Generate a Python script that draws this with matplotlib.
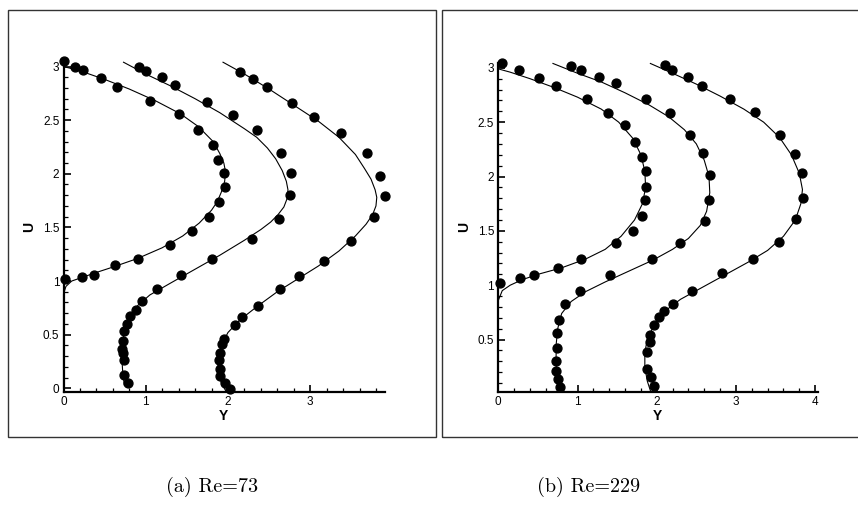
import matplotlib
matplotlib.use("Agg")
import matplotlib.pyplot as plt
from matplotlib.patches import Rectangle
from matplotlib.ticker import MultipleLocator

plt.rcParams['font.family'] = ['Liberation Sans', 'DejaVu Sans']
plt.rcParams['axes.formatter.use_mathtext'] = False

# ---------------- Re = 73 ----------------
a_dots1_x = [0.01, 0.14, 0.24, 0.46, 0.65, 1.05, 1.40, 1.63, 1.82, 1.88, 1.95, 1.96, 1.89, 1.77, 1.56, 1.30, 0.91, 0.63, 0.37, 0.23, 0.02]
a_dots1_y = [3.05, 3.00, 2.97, 2.89, 2.81, 2.68, 2.56, 2.41, 2.27, 2.13, 2.01, 1.88, 1.74, 1.60, 1.47, 1.34, 1.21, 1.15, 1.06, 1.04, 1.02]
a_line1_x = [0.0, 0.0, 0.03, 0.10, 0.25, 0.40, 0.60, 0.90, 1.20, 1.45, 1.65, 1.80, 1.87, 1.92, 1.96, 1.97, 1.95, 1.90, 1.82, 1.64, 1.42, 1.12, 0.80, 0.50, 0.20, 0.0]
a_line1_y = [0.0, 0.88, 0.95, 1.00, 1.04, 1.08, 1.13, 1.21, 1.31, 1.42, 1.54, 1.66, 1.74, 1.83, 1.93, 2.02, 2.10, 2.19, 2.30, 2.44, 2.56, 2.68, 2.79, 2.88, 2.96, 3.00]

a_dots2_x = [0.92, 1.00, 1.20, 1.36, 1.74, 2.06, 2.35, 2.65, 2.77, 2.76, 2.62, 2.29, 1.81, 1.43, 1.14, 0.95, 0.88, 0.81, 0.77, 0.74, 0.72, 0.71, 0.72, 0.73, 0.74, 0.78]
a_dots2_y = [3.00, 2.96, 2.90, 2.83, 2.67, 2.55, 2.41, 2.19, 2.01, 1.80, 1.58, 1.39, 1.21, 1.06, 0.93, 0.81, 0.73, 0.67, 0.60, 0.53, 0.44, 0.37, 0.33, 0.26, 0.12, 0.05]
a_line2_x = [0.73, 1.00, 1.30, 1.60, 1.90, 2.20, 2.35, 2.48, 2.58, 2.66, 2.71, 2.73, 2.72, 2.68, 2.61, 2.52, 2.40, 2.20, 1.90, 1.60, 1.30, 1.05, 0.90, 0.80, 0.74, 0.71, 0.71, 0.72, 0.74]
a_line2_y = [3.04, 2.93, 2.82, 2.70, 2.57, 2.42, 2.34, 2.24, 2.14, 2.03, 1.93, 1.85, 1.77, 1.69, 1.62, 1.55, 1.48, 1.38, 1.24, 1.11, 0.98, 0.87, 0.77, 0.65, 0.52, 0.40, 0.28, 0.15, 0.03]

a_dots3_x = [2.15, 2.30, 2.48, 2.78, 3.05, 3.38, 3.69, 3.85, 3.91, 3.78, 3.50, 3.17, 2.87, 2.63, 2.36, 2.17, 2.09, 1.95, 1.93, 1.90, 1.89, 1.90, 1.90, 1.97, 2.02]
a_dots3_y = [2.95, 2.88, 2.81, 2.66, 2.53, 2.38, 2.19, 1.98, 1.79, 1.60, 1.37, 1.19, 1.05, 0.93, 0.77, 0.66, 0.59, 0.46, 0.41, 0.33, 0.26, 0.18, 0.11, 0.05, -0.01]
a_line3_x = [1.94, 2.20, 2.50, 2.80, 3.10, 3.35, 3.55, 3.66, 3.74, 3.79, 3.81, 3.80, 3.76, 3.68, 3.55, 3.35, 3.10, 2.85, 2.60, 2.35, 2.15, 2.00, 1.92, 1.88, 1.88, 1.92, 1.97]
a_line3_y = [3.04, 2.93, 2.79, 2.64, 2.49, 2.34, 2.18, 2.05, 1.95, 1.85, 1.78, 1.70, 1.62, 1.53, 1.42, 1.28, 1.14, 1.02, 0.90, 0.76, 0.64, 0.52, 0.40, 0.28, 0.15, 0.05, -0.02]

# ---------------- Re = 229 ----------------
b_dots1_x = [0.05, 0.26, 0.52, 0.73, 1.12, 1.39, 1.60, 1.72, 1.81, 1.86, 1.86, 1.85, 1.82, 1.70, 1.49, 1.05, 0.76, 0.45, 0.27, 0.02]
b_dots1_y = [3.04, 2.98, 2.91, 2.83, 2.71, 2.58, 2.47, 2.32, 2.18, 2.05, 1.90, 1.78, 1.64, 1.50, 1.39, 1.24, 1.16, 1.09, 1.07, 1.02]
b_line1_x = [0.0, 0.0, 0.05, 0.15, 0.30, 0.50, 0.80, 1.10, 1.35, 1.55, 1.72, 1.82, 1.86, 1.85, 1.80, 1.70, 1.52, 1.30, 1.00, 0.70, 0.40, 0.15, 0.0]
b_line1_y = [0.03, 0.86, 0.95, 1.00, 1.05, 1.10, 1.16, 1.24, 1.33, 1.45, 1.60, 1.75, 1.90, 2.05, 2.20, 2.35, 2.50, 2.62, 2.73, 2.82, 2.90, 2.96, 2.99]

b_dots2_x = [0.92, 1.05, 1.27, 1.49, 1.87, 2.17, 2.42, 2.59, 2.67, 2.66, 2.61, 2.29, 1.94, 1.41, 1.03, 0.84, 0.77, 0.74, 0.74, 0.73, 0.73, 0.75, 0.78]
b_dots2_y = [3.02, 2.98, 2.92, 2.86, 2.71, 2.58, 2.38, 2.22, 2.01, 1.78, 1.59, 1.39, 1.24, 1.09, 0.95, 0.83, 0.68, 0.56, 0.42, 0.30, 0.21, 0.14, 0.06]
b_line2_x = [0.69, 1.00, 1.30, 1.60, 1.90, 2.15, 2.35, 2.50, 2.60, 2.66, 2.67, 2.63, 2.55, 2.40, 2.20, 1.95, 1.65, 1.35, 1.10, 0.92, 0.80, 0.75, 0.73, 0.73, 0.74, 0.76]
b_line2_y = [3.04, 2.95, 2.87, 2.77, 2.66, 2.55, 2.43, 2.30, 2.15, 2.00, 1.85, 1.68, 1.55, 1.43, 1.33, 1.23, 1.13, 1.03, 0.94, 0.85, 0.74, 0.60, 0.45, 0.30, 0.15, 0.03]

b_dots3_x = [2.11, 2.19, 2.39, 2.57, 2.93, 3.24, 3.56, 3.74, 3.83, 3.85, 3.76, 3.55, 3.22, 2.82, 2.45, 2.20, 2.09, 2.03, 1.96, 1.92, 1.91, 1.88, 1.88, 1.93, 1.96]
b_dots3_y = [3.03, 2.98, 2.92, 2.83, 2.71, 2.59, 2.38, 2.21, 2.03, 1.80, 1.61, 1.40, 1.24, 1.11, 0.95, 0.83, 0.76, 0.71, 0.63, 0.54, 0.48, 0.39, 0.23, 0.16, 0.07]
b_line3_x = [1.92, 2.20, 2.50, 2.80, 3.10, 3.35, 3.55, 3.70, 3.80, 3.84, 3.82, 3.75, 3.60, 3.40, 3.15, 2.85, 2.55, 2.30, 2.10, 1.97, 1.88, 1.85, 1.85, 1.88, 1.92]
b_line3_y = [3.04, 2.95, 2.85, 2.74, 2.62, 2.50, 2.36, 2.20, 2.03, 1.88, 1.75, 1.60, 1.45, 1.32, 1.21, 1.09, 0.97, 0.87, 0.76, 0.64, 0.50, 0.38, 0.25, 0.12, 0.03]

captions = ["(a) Re=73", "(b) Re=229"]

W, H = 858, 516
fig = plt.figure(figsize=(W / 100, H / 100), dpi=100)

# frames
fig.add_artist(Rectangle((8 / W, 1 - 437 / H), (436 - 8) / W, (437 - 10) / H,
                         transform=fig.transFigure, fill=False, edgecolor='#333333', linewidth=1.0))
fig.add_artist(Rectangle((442 / W, 1 - 437 / H), (870 - 442) / W, (437 - 10) / H,
                         transform=fig.transFigure, fill=False, edgecolor='#333333', linewidth=1.0,
                         clip_on=False))


def make_axes(rect, xlim, ylim, xmajor_max, ylabel_x, data, ylow_label):
    ax = fig.add_axes(rect)
    for xs, ys, lx, ly in data:
        ax.plot(lx, ly, color='black', linewidth=0.8, zorder=2, clip_on=False)
        ax.plot(xs, ys, linestyle='none', marker='o', markersize=6.4, color='black',
                zorder=3, clip_on=False)
    for s in ['top', 'right']:
        ax.spines[s].set_visible(False)
    for s in ['left', 'bottom']:
        ax.spines[s].set_linewidth(1.6)
    ax.xaxis.set_minor_locator(MultipleLocator(0.2))
    ax.yaxis.set_minor_locator(MultipleLocator(0.1))
    ax.tick_params(which='major', direction='in', length=5, width=1.2, labelsize=8.5, pad=3)
    ax.tick_params(which='minor', direction='in', length=3, width=0.9)
    xt = list(range(0, xmajor_max + 1))
    ax.set_xticks(xt)
    ax.set_xticklabels([str(v) for v in xt])
    yt = [v * 0.5 for v in range(0, 7) if v * 0.5 >= ylow_label]
    ax.set_yticks(yt)
    ax.set_yticklabels(['%g' % v for v in yt])
    ax.set_xlim(*xlim)
    ax.set_ylim(*ylim)
    ax.set_xlabel('Y', fontsize=10, fontweight='bold', va='top')
    ax.set_ylabel('U', fontsize=10, fontweight='bold')
    ax.xaxis.set_label_coords(0.496, -0.052)
    ax.yaxis.set_label_coords(ylabel_x, 0.5)
    ax.patch.set_alpha(0)
    return ax


ax1 = make_axes([63.5 / W, 1 - 391.5 / H, 321.5 / W, (391.5 - 63.3) / H],
                (0, 3.91), (-0.03, 3.03), 3, -0.086,
                [(a_dots1_x, a_dots1_y, a_line1_x, a_line1_y),
                 (a_dots2_x, a_dots2_y, a_line2_x, a_line2_y),
                 (a_dots3_x, a_dots3_y, a_line3_x, a_line3_y)], 0.0)

ax2 = make_axes([498.3 / W, 1 - 391.5 / H, 320 / W, (391.5 - 62.7) / H],
                (0, 4.04), (0.022, 3.047), 4, -0.085,
                [(b_dots1_x, b_dots1_y, b_line1_x, b_line1_y),
                 (b_dots2_x, b_dots2_y, b_line2_x, b_line2_y),
                 (b_dots3_x, b_dots3_y, b_line3_x, b_line3_y)], 0.5)

for cx, txt in zip([212, 589], captions):
    fig.text(cx / W, 1 - 487 / H, txt, ha='center', va='center', fontsize=14.5,
             family=['cmr10', 'DejaVu Serif'])

fig.savefig('out.png', dpi=100)
